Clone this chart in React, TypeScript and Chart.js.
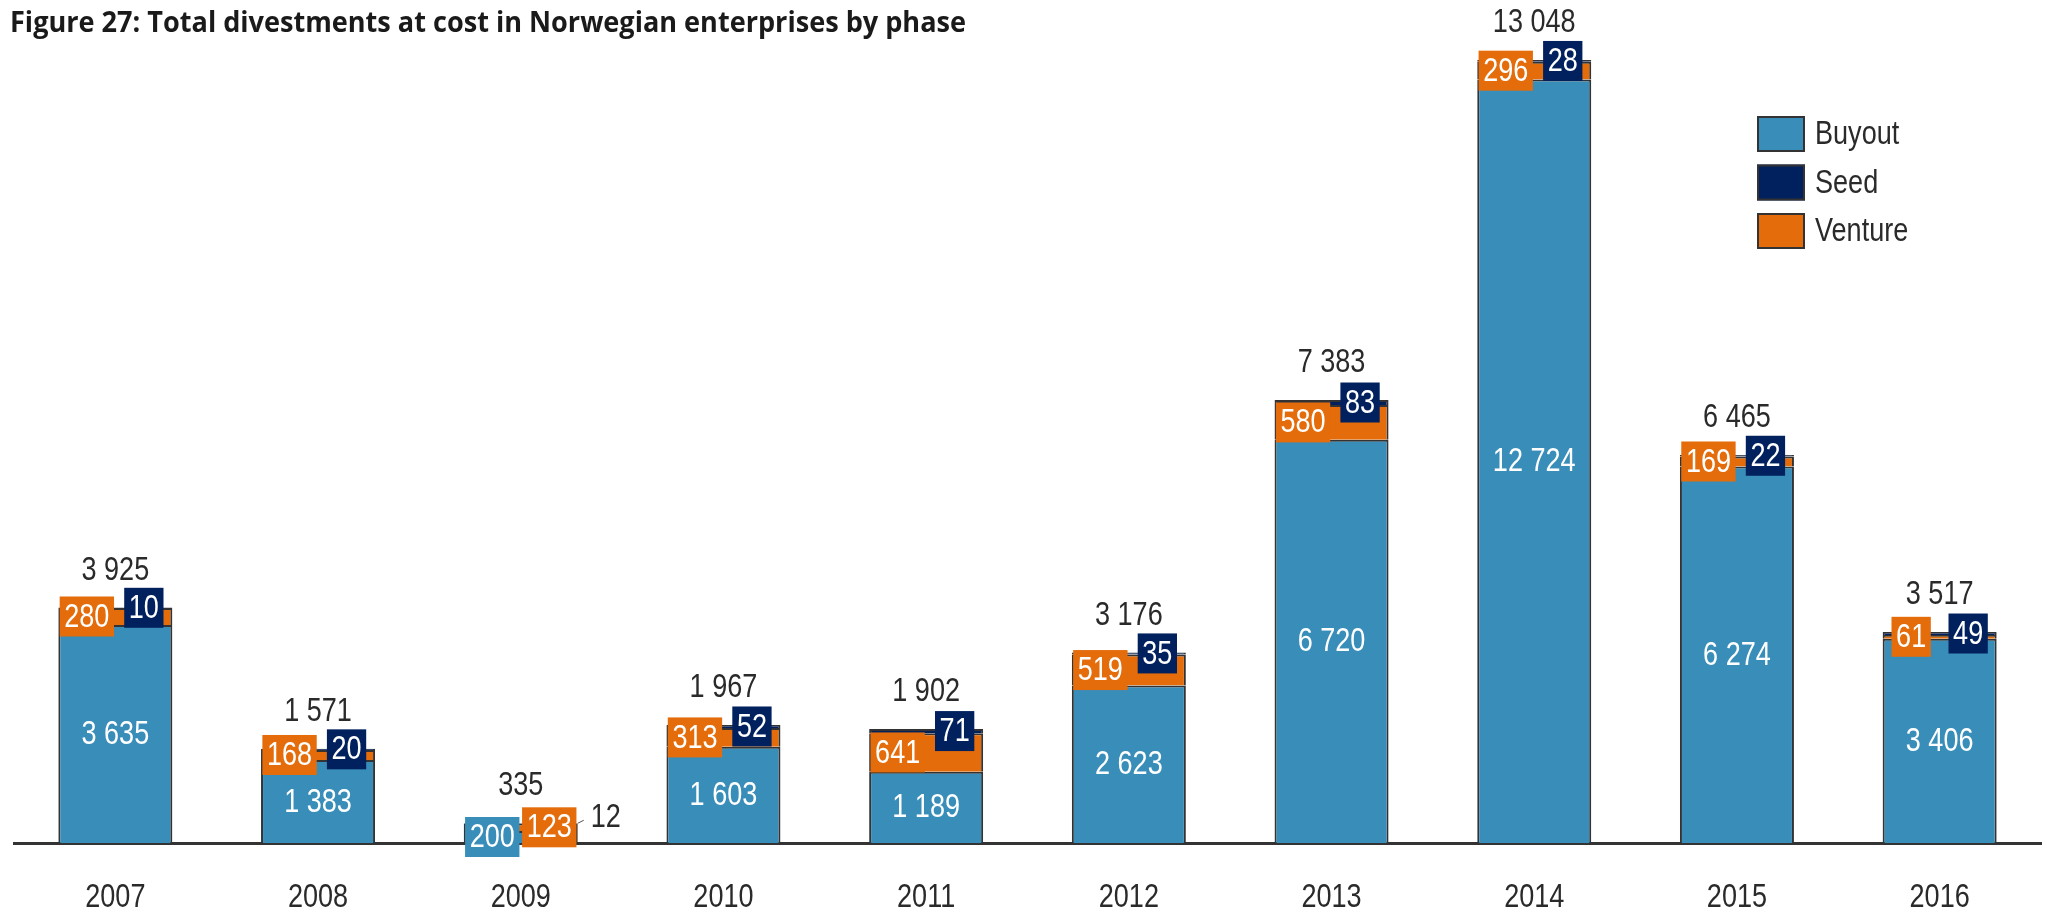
import React, { useEffect, useRef } from "react";
import { Chart, registerables } from "chart.js";

Chart.register(...registerables);

const categories = ["2007", "2008", "2009", "2010", "2011", "2012", "2013", "2014", "2015", "2016"];
const buyout = [3635, 1383, 200, 1603, 1189, 2623, 6720, 12724, 6274, 3406];
const venture = [280, 168, 123, 313, 641, 519, 580, 296, 169, 61];
const seed = [10, 20, 12, 52, 71, 35, 83, 28, 22, 49];
const totals = [3925, 1571, 335, 1967, 1902, 3176, 7383, 13048, 6465, 3517];

const TITLE = "Figure 27: Total divestments at cost in Norwegian enterprises by phase";
const BLUE = "#398DB9";
const ORANGE = "#E46C0A";
const NAVY = "#00215E";
const DARK = "#2a2a2a";
const FONT = "'Liberation Sans', Arial, sans-serif";
const NARROW = 0.82;

const fmt = (n: number) => String(n).replace(/\B(?=(\d{3})+(?!\d))/g, " ");

// draws horizontally condensed text (Arial Narrow look)
const narrowText = (ctx: any, text: string, x: number, y: number, align: "left" | "center") => {
  const w = ctx.measureText(text).width * NARROW;
  ctx.save();
  ctx.textAlign = "left";
  const left = align === "center" ? x - w / 2 : x;
  ctx.translate(left, y);
  ctx.scale(NARROW, 1);
  ctx.fillText(text, 0, 0);
  ctx.restore();
  return w;
};

const labelPlugin = {
  id: "customLabels",
  afterDraw(chart: any) {
    const ctx = chart.ctx;
    ctx.save();
    // title
    ctx.font = "bold 28px 'Open Sans', sans-serif";
    ctx.fillStyle = "#1a1a1a";
    ctx.textBaseline = "alphabetic";
    ctx.textAlign = "left";
    const tw = ctx.measureText(TITLE).width;
    ctx.save();
    ctx.translate(10, 32);
    ctx.scale(956 / tw, 1);
    ctx.fillText(TITLE, 0, 0);
    ctx.restore();

    const metaB = chart.getDatasetMeta(0);
    const metaV = chart.getDatasetMeta(1);
    const metaS = chart.getDatasetMeta(2);
    const yScale = chart.scales.y;
    const xScale = chart.scales.x;
    const OFF = 28.5;
    const BOX_H = 40;
    const PAD = 4.6;
    ctx.font = `33px ${FONT}`;
    ctx.textBaseline = "middle";

    const box = (text: string, cx: number, cy: number, color: string) => {
      const w = ctx.measureText(text).width * NARROW + PAD * 2;
      ctx.fillStyle = color;
      ctx.fillRect(cx - w / 2, cy - BOX_H / 2, w, BOX_H);
      ctx.fillStyle = "#ffffff";
      narrowText(ctx, text, cx, cy + 1, "center");
    };

    // category tick labels
    ctx.fillStyle = DARK;
    categories.forEach((c, i) => {
      narrowText(ctx, c, xScale.getPixelForValue(i), 898, "center");
    });

    for (let i = 0; i < categories.length; i++) {
      const bB = metaB.data[i];
      const bV = metaV.data[i];
      const bS = metaS.data[i];
      const cx = bB.x;
      const midB = (bB.y + bB.base) / 2;
      const midV = (bV.y + bV.base) / 2;
      const midS = (bS.y + bS.base) / 2;
      const small = bB.base - bB.y < 45;
      if (!small) {
        ctx.fillStyle = "#ffffff";
        narrowText(ctx, fmt(buyout[i]), cx, midB + 1, "center");
        box(fmt(venture[i]), cx - OFF, midV, ORANGE);
        box(fmt(seed[i]), cx + OFF, midS, NAVY);
      } else {
        box(fmt(buyout[i]), cx - OFF, midB, BLUE);
        box(fmt(venture[i]), cx + OFF, midV, ORANGE);
        const right = cx + bB.width / 2;
        ctx.strokeStyle = "#555";
        ctx.lineWidth = 1;
        ctx.beginPath();
        ctx.moveTo(right, midS);
        ctx.lineTo(right + 6, midS - 3);
        ctx.stroke();
        ctx.fillStyle = DARK;
        narrowText(ctx, fmt(seed[i]), right + 13, midS - 5, "left");
      }
      const top = yScale.getPixelForValue(totals[i]);
      ctx.fillStyle = DARK;
      narrowText(ctx, fmt(totals[i]), cx, top - 37, "center");
    }

    // legend
    const items = [
      { label: "Buyout", color: BLUE },
      { label: "Seed", color: NAVY },
      { label: "Venture", color: ORANGE },
    ];
    ctx.font = `33px ${FONT}`;
    items.forEach((it, k) => {
      const y = 116 + k * 48.5;
      ctx.fillStyle = it.color;
      ctx.fillRect(1757, y, 48, 36);
      ctx.strokeStyle = "#333";
      ctx.lineWidth = 2;
      ctx.strokeRect(1758, y + 1, 46, 34);
      ctx.fillStyle = DARK;
      narrowText(ctx, it.label, 1815, y + 19, "left");
    });
    ctx.restore();
  },
};

export default function App() {
  const ref = useRef<HTMLCanvasElement | null>(null);
  useEffect(() => {
    if (!ref.current) return;
    const chart = new Chart(ref.current, {
      type: "bar",
      data: {
        labels: categories,
        datasets: [
          { label: "Buyout", data: buyout, backgroundColor: BLUE, borderColor: "#333", borderWidth: 2 },
          { label: "Venture", data: venture, backgroundColor: ORANGE, borderColor: "#333", borderWidth: 2 },
          { label: "Seed", data: seed, backgroundColor: NAVY, borderColor: "#333", borderWidth: 2 },
        ],
      },
      options: {
        responsive: false,
        animation: false,
        devicePixelRatio: 1,
        layout: { padding: { top: 3, left: 14, right: 6, bottom: 0 } },
        datasets: { bar: { categoryPercentage: 1, barPercentage: 0.5625 } },
        plugins: { legend: { display: false }, tooltip: { enabled: false }, title: { display: false } },
        scales: {
          x: {
            stacked: true,
            z: 1,
            grid: { display: false, drawTicks: false },
            border: { display: true, color: "#333", width: 3 },
            ticks: { display: false },
            afterFit: (axis: any) => {
              axis.height = 71;
            },
          },
          y: { stacked: true, display: false, min: 0, max: 14000 },
        },
      },
      plugins: [labelPlugin],
    } as any);
    return () => chart.destroy();
  }, []);
  return (
    <div style={{ position: "fixed", left: 0, top: 0, width: 2047, height: 914, background: "#fff" }}>
      <canvas ref={ref} width={2047} height={914} style={{ display: "block" }} />
    </div>
  );
}
